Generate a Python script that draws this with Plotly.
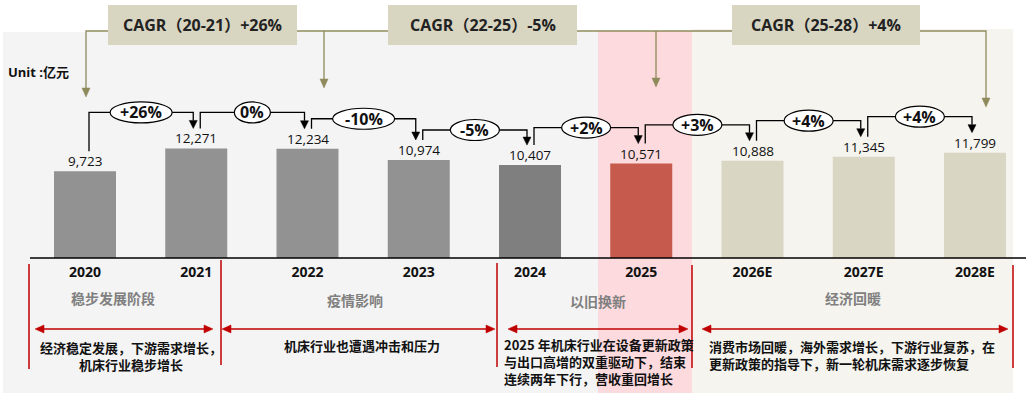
import plotly.graph_objects as go

# ---------------- data ----------------
years = ["2020", "2021", "2022", "2023", "2024", "2025", "2026E", "2027E", "2028E"]
revenue = [9723, 12271, 12234, 10974, 10407, 10571, 10888, 11345, 11799]
growth_labels = ["+26%", "0%", "-10%", "-5%", "+2%", "+3%", "+4%", "+4%"]
cagr_labels = ["CAGR（20-21）+26%", "CAGR（22-25）-5%", "CAGR（25-28）+4%"]
phase_titles = ["稳步发展阶段", "疫情影响", "以旧换新", "经济回暖"]
phase_notes = [
    ["经济稳定发展，下游需求增长，", "机床行业稳步增长"],
    ["机床行业也遭遇冲击和压力"],
    ["2025 年机床行业在设备更新政策", "与出口高增的双重驱动下，结束", "连续两年下行，营收重回增长"],
    ["消费市场回暖，海外需求增长，下游行业复苏，在", "更新政策的指导下，新一轮机床需求逐步恢复"],
]
unit_label = "Unit :亿元"

# ---------------- styles ----------------
bar_colors = ["#929292"] * 4 + ["#7f7f7f", "#c55a4d"] + ["#d9d6c3"] * 3
FONT = "Open Sans, Noto Sans CJK SC, sans-serif"
CJK = "Noto Sans CJK SC, Open Sans, sans-serif"
OLIVE = "#8e8a5c"
RED = "#c00000"

W, H = 1026, 393
STEP = 111.25      # px per category
X0PX = 85          # px of first category centre
BASE = 258         # px of the zero line
UPP = 112          # value units per px

xr = [-X0PX / STEP, (W - X0PX) / STEP]
yr = [-(H - BASE) * UPP, BASE * UPP]


def dx(p):
    return p / STEP


def dy(p):
    return p * UPP


def px(p):
    return p / W


def py(p):
    return 1 - p / H


shapes = []
annotations = []


def text(x, y, t, size, color="#111111", family=FONT, xanchor="center", yanchor="middle", align="center"):
    annotations.append(dict(x=px(x), y=py(y), xref="paper", yref="paper", text=t, showarrow=False,
                            xanchor=xanchor, yanchor=yanchor, align=align,
                            font=dict(family=family, size=size, color=color)))


# backgrounds
shapes.append(dict(type="rect", xref="paper", yref="paper", x0=px(3), x1=px(598), y0=0, y1=py(32),
                   fillcolor="#f4f4f4", line=dict(width=0), layer="below"))
shapes.append(dict(type="rect", xref="paper", yref="paper", x0=px(598), x1=px(692), y0=0, y1=py(31),
                   fillcolor="#fddadd", line=dict(width=0), layer="below"))
shapes.append(dict(type="rect", xref="paper", yref="paper", x0=px(692), x1=px(1013), y0=0, y1=py(29),
                   fillcolor="#f5f4ee", line=dict(width=0), layer="below"))

# zero line
shapes.append(dict(type="line", xref="paper", yref="y", x0=px(30), x1=1, y0=0, y1=0,
                   line=dict(color="black", width=1.5)))

# bars
idx = list(range(len(years)))
fig = go.Figure(go.Bar(x=idx, y=revenue, width=62 / STEP, marker=dict(color=bar_colors, line=dict(width=0)),
                       hoverinfo="skip"))

# value labels
for i, v in enumerate(revenue):
    annotations.append(dict(x=i, y=v, xref="x", yref="y", text=f"{v:,}", showarrow=False,
                            xanchor="center", yanchor="bottom", yshift=-1,
                            font=dict(family=FONT, size=13.5, color="#111111")))

# year-on-year connectors
for i in range(len(revenue) - 1):
    v0, v1 = revenue[i], revenue[i + 1]
    g = v1 / v0 - 1
    level = max(v0, v1) + dy(36 if g > -0.02 else 30)
    xs = i + dx(4)
    xe = i + 1 - dx(3)
    ys = v0 + dy(20)
    tip = v1 + dy(20)
    base = tip + dy(8)
    shapes.append(dict(type="path", xref="x", yref="y",
                       path=f"M {xs},{ys} V {level} H {xe} V {base}",
                       line=dict(color="black", width=1.3)))
    shapes.append(dict(type="path", xref="x", yref="y",
                       path=f"M {xe - dx(4)},{base} L {xe + dx(4)},{base} L {xe},{tip} Z",
                       fillcolor="black", line=dict(color="black", width=0.5)))
    lab = growth_labels[i]
    w = 13 * len(lab) + 10
    xc = (xs + xe) / 2
    shapes.append(dict(type="circle", xref="x", yref="y", x0=xc - dx(w / 2), x1=xc + dx(w / 2),
                       y0=level - dy(10.5), y1=level + dy(10.5), fillcolor="white",
                       line=dict(color="black", width=1.2)))
    annotations.append(dict(x=xc, y=level, xref="x", yref="y", text=f"<b>{lab}</b>", showarrow=False,
                            xanchor="center", yanchor="middle",
                            font=dict(family=FONT, size=16, color="#111111")))

# CAGR boxes
boxes = [(108, 297), (388, 577), (732, 920)]
for (b0, b1), lab in zip(boxes, cagr_labels):
    shapes.append(dict(type="rect", xref="paper", yref="paper", x0=px(b0), x1=px(b1), y0=py(45), y1=py(5),
                       fillcolor="#d8d5c1", line=dict(width=0)))
    text((b0 + b1) / 2, 25, f"<b>{lab}</b>", 16, color="#222222")


def olive_path(p):
    shapes.append(dict(type="path", xref="paper", yref="paper", path=p, line=dict(color=OLIVE, width=1.3)))


def tri_down(x, ytip, color, size=4, h=9):
    shapes.append(dict(type="path", xref="paper", yref="paper",
                       path=f"M {px(x - size)},{py(ytip - h)} L {px(x + size)},{py(ytip - h)} L {px(x)},{py(ytip)} Z",
                       fillcolor=color, line=dict(color=color, width=0.5)))


LY = 31
olive_path(f"M {px(108)},{py(LY)} H {px(86)} V {py(89)}")
tri_down(86, 97, OLIVE)
olive_path(f"M {px(297)},{py(LY)} H {px(388)}")
olive_path(f"M {px(324)},{py(LY)} V {py(80)}")
tri_down(324, 88, OLIVE)
olive_path(f"M {px(577)},{py(LY)} H {px(732)}")
olive_path(f"M {px(656)},{py(LY)} V {py(79)}")
tri_down(656, 87, OLIVE)
olive_path(f"M {px(920)},{py(LY)} H {px(986)} V {py(99)}")
tri_down(986, 107, OLIVE)

# unit label
text(6, 72, f"<b>{unit_label}</b>", 13, xanchor="left")

# red separators
for x, y0, y1 in [(29, 264, 369), (221, 260, 365), (497, 263, 367), (692, 265, 368), (1013, 265, 368)]:
    shapes.append(dict(type="line", xref="paper", yref="paper", x0=px(x), x1=px(x), y0=py(y0), y1=py(y1),
                       line=dict(color=RED, width=1.5)))

# red double arrows
AY = 329
for a, b in [(35, 213), (222, 495), (508, 688), (702, 1008)]:
    shapes.append(dict(type="line", xref="paper", yref="paper", x0=px(a + 6), x1=px(b - 6), y0=py(AY), y1=py(AY),
                       line=dict(color=RED, width=1.5)))
    shapes.append(dict(type="path", xref="paper", yref="paper",
                       path=f"M {px(a)},{py(AY)} L {px(a + 9)},{py(AY - 4)} L {px(a + 9)},{py(AY + 4)} Z",
                       fillcolor=RED, line=dict(color=RED, width=0.5)))
    shapes.append(dict(type="path", xref="paper", yref="paper",
                       path=f"M {px(b)},{py(AY)} L {px(b - 9)},{py(AY - 4)} L {px(b - 9)},{py(AY + 4)} Z",
                       fillcolor=RED, line=dict(color=RED, width=0.5)))

# phase titles
for (x, y), t in zip([(113, 298), (355, 300), (598, 301), (853, 298)], phase_titles):
    text(x, y, f"<b>{t}</b>", 14, color="#808080", family=CJK)

# phase notes
note_pos = [(131, 355.5, "center"), (362, 345, "center"), (502, 361, "left"), (707, 354.5, "left")]
for (x, y, anchor), lines in zip(note_pos, phase_notes):
    text(x, y, "<br>".join(f"<b>{ln}</b>" for ln in lines), 13, family=CJK, xanchor=anchor, align=anchor)

fig.update_layout(
    width=W, height=H,
    margin=dict(l=0, r=0, t=0, b=0),
    paper_bgcolor="white", plot_bgcolor="white",
    showlegend=False,
    shapes=shapes, annotations=annotations,
    xaxis=dict(range=xr, tickvals=idx, ticktext=[f"<b>{y}</b>" for y in years],
               anchor="free", position=(H - BASE) / H, showline=False, showgrid=False, zeroline=False,
               ticks="", ticklabelstandoff=4, tickfont=dict(family=FONT, size=14, color="#111111"),
               fixedrange=True),
    yaxis=dict(range=yr, visible=False, fixedrange=True),
)

fig.write_html("out.html", config={"displayModeBar": False},
               post_script="document.body.style.margin='0';document.body.style.overflow='hidden';")
